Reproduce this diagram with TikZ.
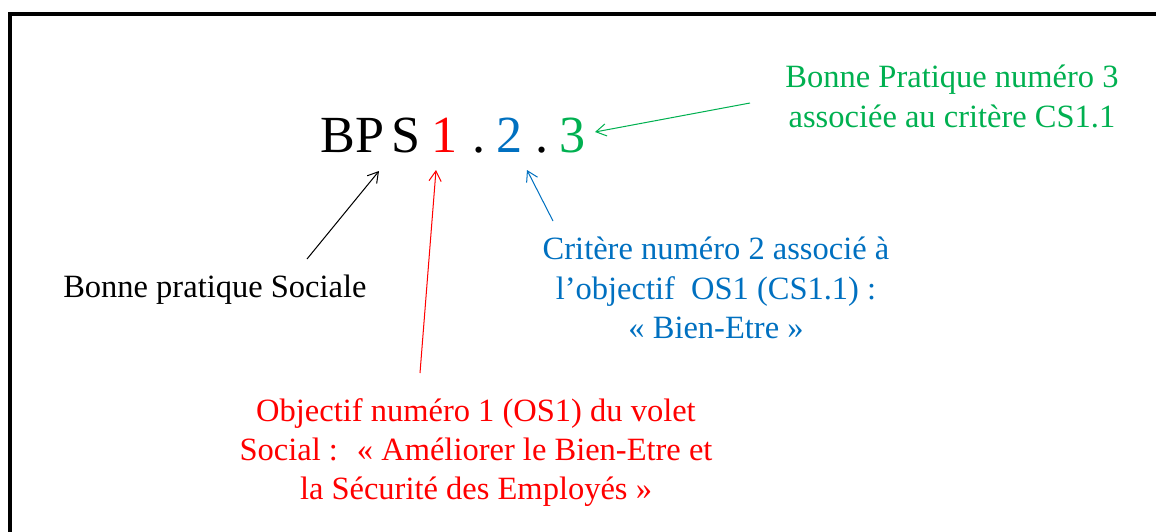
\documentclass[tikz,border=0pt]{standalone}
\usepackage{fontspec}
\setmainfont{Liberation Serif}
\usetikzlibrary{arrows.meta}
\definecolor{pred}{RGB}{255,0,0}
\definecolor{pblue}{RGB}{0,112,192}
\definecolor{pgreen}{RGB}{0,176,80}
\begin{document}
\begin{tikzpicture}[x=0.7385pt,y=-0.7385pt,
  lbl/.style={align=center, inner sep=0pt, font=\fontsize{24}{29}\selectfont},
  big/.style={inner sep=0pt, anchor=base west, font=\fontsize{38.5}{46}\selectfont},
  arr/.style={-{Straight Barb[length=7.5pt,width=9pt]}, line width=0.75pt}]
\useasboundingbox (0,0) rectangle (1156,531);
\clip (0,0) rectangle (1156,531);
\draw[line width=2.6pt] (9.9,700) |- (1300,14);
\node[big] (bp) at (320,152) {BP};
\node[big] (s) at (391,152) {S};
\node[big, text=pred] (one) at (431.5,152) {1};
\node[big] (dot1) at (472.5,152) {.};
\node[big, text=pblue] (two) at (496.5,152) {2};
\node[big] (dot2) at (535,152) {.};
\node[big, text=pgreen] (three) at (559,152) {3};
\node[lbl, anchor=base west] (bps) at (63,297) {Bonne pratique Sociale};
\node[lbl, text=pgreen, anchor=north] (bp3) at (952,65) {Bonne Pratique numéro 3\\associée au critère CS1.1};
\node[lbl, text=pblue, anchor=north] (cs) at (716,237) {Critère numéro 2 associé à\\l’objectif~ OS1 (CS1.1) :\\« Bien-Etre »};
\node[lbl, text=pred, anchor=north] (os) at (476,398) {Objectif numéro 1 (OS1) du volet\\Social :~ « Améliorer le Bien-Etre et\\la Sécurité des Employés »};
\coordinate (ktail) at (307,259);
\coordinate (ktip) at (379,171);
\coordinate (rtail) at (420,373);
\coordinate (rtip) at (436,170);
\coordinate (btail) at (553,221);
\coordinate (btip) at (527,170);
\coordinate (gtail) at (750,103);
\coordinate (gtip) at (595,132);
\draw[arr] (ktail) -- (ktip);
\draw[arr, pred] (rtail) -- (rtip);
\draw[arr, pblue] (btail) -- (btip);
\draw[arr, pgreen] (gtail) -- (gtip);
\end{tikzpicture}
\end{document}
